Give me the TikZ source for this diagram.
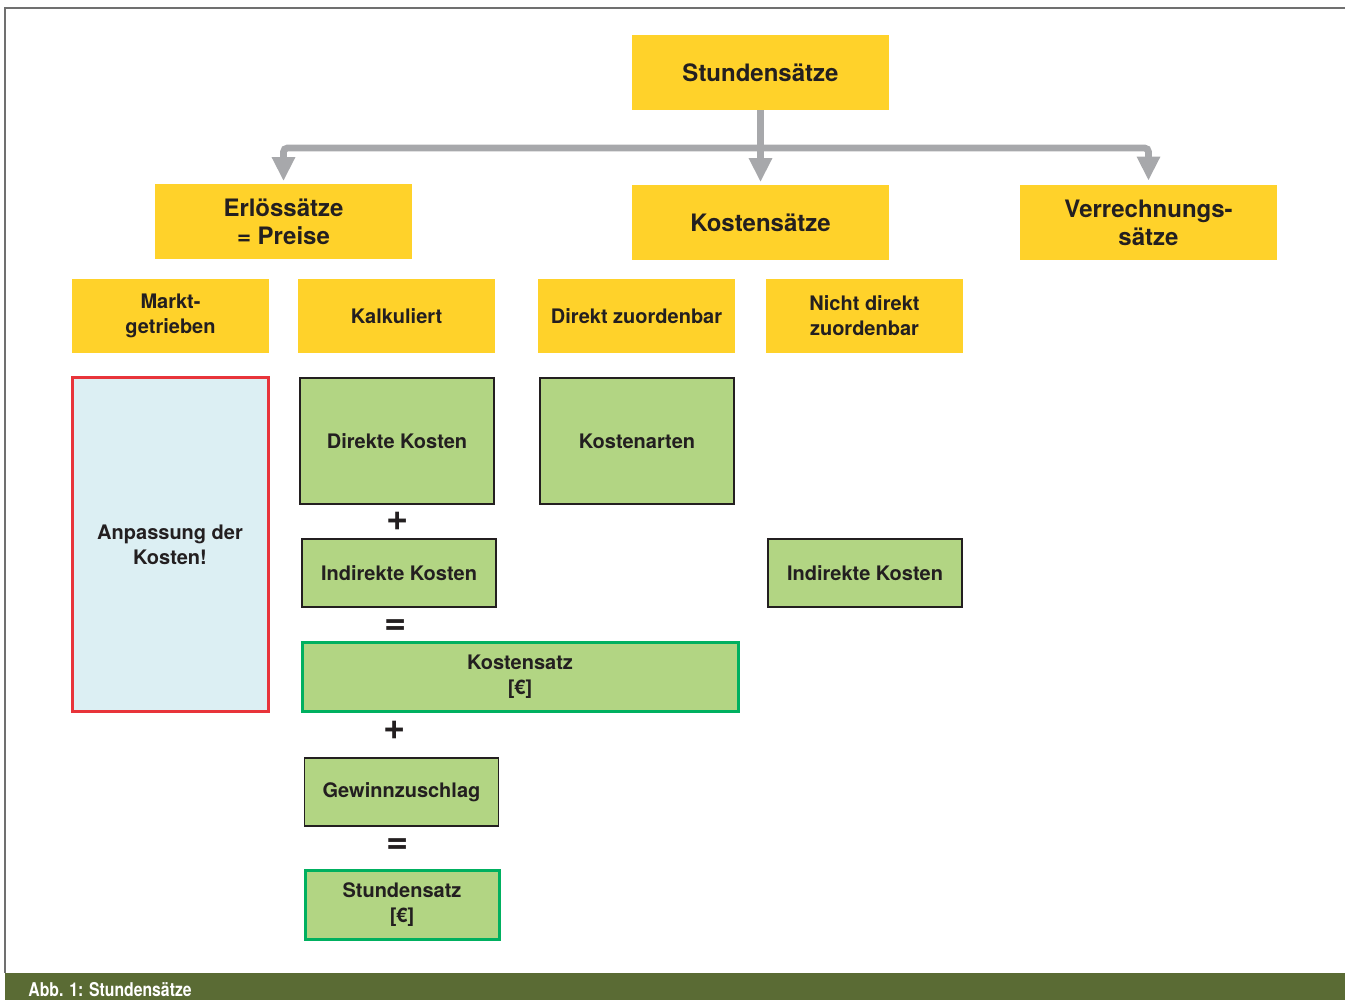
\documentclass[tikz,border=0pt]{standalone}
\usepackage{fontspec}
\setmainfont{TeX Gyre Heros}
\newfontfamily\capfont[FakeStretch=0.83]{TeX Gyre Heros}
\usepackage{tikz}
\usetikzlibrary{arrows.meta,calc}

\definecolor{gelb}{HTML}{FFD22A}
\definecolor{gruen}{HTML}{B2D583}
\definecolor{blass}{HTML}{DCEFF3}
\definecolor{rot}{HTML}{E8343A}
\definecolor{rahmengruen}{HTML}{00B060}
\definecolor{pfeilgrau}{HTML}{A7A8AB}
\definecolor{schrift}{HTML}{231F20}
\definecolor{balken}{HTML}{5A6B34}
\definecolor{linie}{HTML}{707070}

\begin{document}
\begin{tikzpicture}
	[
	 x = 0.5pt, y = -0.5pt,
	 >={Triangle[length=12pt,width=11pt]},
	 every node/.style = {align=center,
		                  inner sep = 0pt,
		                  text = schrift,
		                  font = \bfseries
	                     },
	 head/.style = {fill = gelb,
	 	            minimum width = 128.5pt,
	 	            minimum height = 37.5pt,
	 	            font = \fontsize{12}{14}\selectfont\bfseries},
	 sub/.style  = {fill = gelb,
	 	            minimum width = 98.5pt,
	 	            minimum height = 37pt,
	 	            font = \fontsize{10}{12.5}\selectfont\bfseries},
	 calc/.style = {fill = gruen,
	 	            draw = schrift,
	 	            line width = 0.7pt,
	 	            minimum width = 97pt,
	 	            minimum height = 34pt,
	 	            font = \fontsize{10}{12.5}\selectfont\bfseries},
	 sum/.style  = {calc,
	 	            draw = rahmengruen,
	 	            line width = 1.5pt},
	 op/.style   = {font = \fontsize{19}{19}\selectfont\bfseries},
	 arr/.style  = {draw = pfeilgrau,
	 	            line width = 3.4pt}
	]
	
	\newcommand{\MG}{Markt-\\getrieben}
	\newcommand{\NDZ}{Nicht direkt\\zuordenbar}
	\newcommand{\AdK}{Anpassung der\\Kosten!}
	
	\useasboundingbox (0,0) rectangle (1345,1000);
	
	% Rahmen und Bildunterschrift
	\draw[linie, line width = 1pt] (1345,8) -- (5,8) -- (5,973);
	\fill[balken] (5,973) rectangle (1345,1000);
	\node[anchor = west, text = white, font = \capfont\fontsize{9.5}{10}\selectfont\bfseries]
	     (cap) at (28,990) {Abb. 1: Stundensätze};
	
	% obere Ebenen
	\node[head] (S)  at (760.5,72.5) {Stundensätze};
	\node[head] (E)  at (283.5,222)  {Erlössätze\\= Preise};
	\node[head] (K)  at (760.5,223)  {Kostensätze};
	\node[head] (V)  at (1148.5,222.5) {Verrechnungs-\\sätze};
	
	\node[sub] (M)  at (170.5,316) {\MG};
	\node[sub] (Ka) at (396.5,316) {Kalkuliert};
	\node[sub] (D)  at (636.5,316) {Direkt zuordenbar};
	\node[sub] (N)  at (864.5,316) {\NDZ};
	
	% Rechenweg
	\node[fill = blass, draw = rot, line width = 1.5pt,
	      minimum width = 98pt, minimum height = 166.5pt,
	      font = \fontsize{10}{12.5}\selectfont\bfseries]
	      (A) at (170,544.5) {\AdK};
	
	\node[calc, minimum height = 63pt] (DK) at (397,441) {Direkte Kosten};
	\node[calc, minimum height = 63pt] (KA) at (637,441) {Kostenarten};
	\node[calc] (IK1) at (399,573) {Indirekte Kosten};
	\node[calc] (IK2) at (865,573) {Indirekte Kosten};
	\node[sum, minimum width = 218pt, minimum height = 34.5pt]
	      (KS) at (520,676.5) {Kostensatz\\{[\texteuro]}};
	\node[calc] (G)   at (401.5,792) {Gewinnzuschlag};
	\node[sum, minimum height = 34.5pt] (SS) at (402,904.5) {Stundensatz\\{[\texteuro]}};
	
	\node[op] (p1) at (398,521) {+};
	\node[op] (e1) at (396,627) {=};
	\node[op] (p2) at (395,730) {+};
	\node[op] (e2) at (398,846) {=};
	
	% Pfeile
	\coordinate (bar) at (760.5,148);
	\draw[arr, ->, shorten > = 1.5pt] (S.south) -- (K.north);
	\draw[arr, <->, rounded corners = 2pt, shorten < = 1.5pt, shorten > = 2pt]
	     (E.north) |- (bar) -| (V.north);
\end{tikzpicture}
\end{document}
